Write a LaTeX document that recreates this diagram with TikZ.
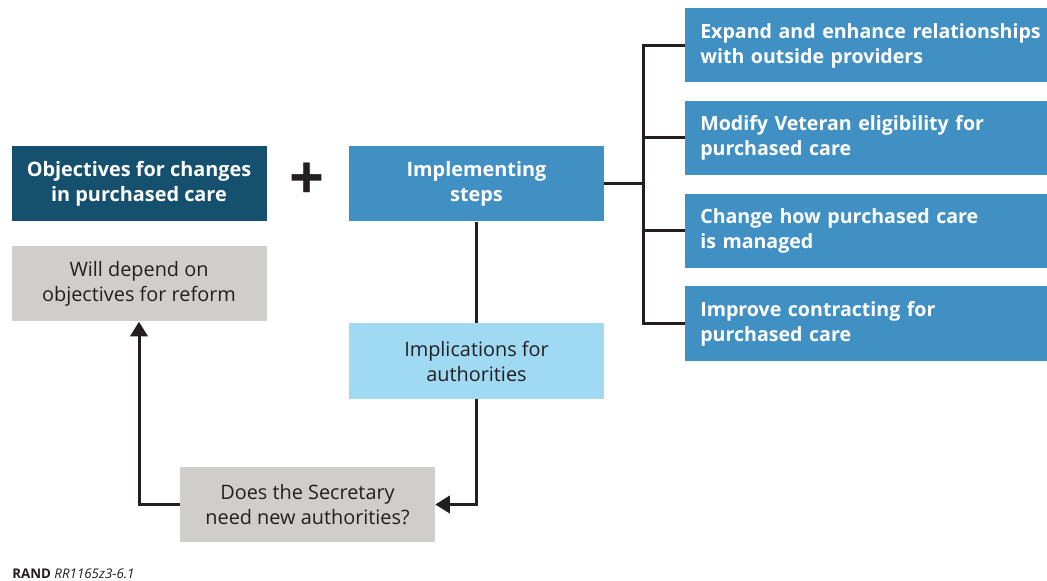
\documentclass[tikz,border=0pt]{standalone}
\usepackage{fontspec}
\setmainfont{Open Sans}
\usetikzlibrary{arrows.meta, positioning}

\definecolor{darkteal}{HTML}{15506F}
\definecolor{midblue}{HTML}{4190C3}
\definecolor{lightblue}{HTML}{A0D9F2}
\definecolor{boxgray}{HTML}{CFCECC}
\definecolor{inkgray}{HTML}{231F20}

\begin{document}
\begin{tikzpicture}[
  x=0.75pt,
  y=-0.75pt,
  box/.style={minimum width=191.25pt, minimum height=56.25pt, inner sep=0pt, align=center, font=\fontsize{14.9}{18.75}\selectfont},
  darkbox/.style={box, fill=darkteal, text=white, font=\fontsize{14.9}{18.75}\selectfont\bfseries},
  bluebox/.style={box, fill=midblue, text=white, font=\fontsize{14.9}{18.75}\selectfont\bfseries},
  palebox/.style={box, fill=lightblue, text=inkgray},
  graybox/.style={box, fill=boxgray, text=inkgray},
  stepbox/.style={fill=midblue, text=white, anchor=west, minimum width=271.5pt, minimum height=55.5pt, inner xsep=11.25pt, inner ysep=0pt, text width=268pt, align=left, font=\fontsize{14.7}{18.75}\selectfont\bfseries},
  wire/.style={draw=inkgray, line width=2.25pt},
  feed/.style={wire, -{Triangle[length=11pt, width=13pt]}}
  ]
    \useasboundingbox (0,0) rectangle (1047,581);

    % left column
    \node[darkbox] (goals) at (139,184) {Objectives for changes\\in purchased care};
    \node[graybox] (depend) at (139,284) {Will depend on\\objectives for reform};

    % plus
    \node[text=inkgray, font=\fontsize{46}{46}\selectfont\bfseries] (plus) at (307,181) {+};

    % middle column
    \node[bluebox] (impl) at (476.5,184) {Implementing\\steps};
    \node[palebox] (implic) at (476.5,361) {Implications for\\authorities};
    \node[graybox] (secr) at (307.5,504.5) {Does the Secretary\\need new authorities?};

    % the four steps
    \node[stepbox] (stepa) at (685,45.5) {Expand and enhance relationships\\with outside providers};
    \node[stepbox] (stepb) at (685,138) {Modify Veteran eligibility for\\purchased care};
    \node[stepbox] (stepc) at (685,231) {Change how purchased care\\is managed};
    \node[stepbox] (stepd) at (685,323.5) {Improve contracting for\\purchased care};

    % bracket
    \coordinate (spine) at (643,184);
    \draw[wire] (impl.east) -- (spine);
    \draw[wire, line cap=rect] (spine |- stepa.west) -- (spine |- stepd.west);
    \draw[wire] (spine |- stepa.west) -- (stepa.west);
    \draw[wire] (spine |- stepb.west) -- (stepb.west);
    \draw[wire] (spine |- stepc.west) -- (stepc.west);
    \draw[wire] (spine |- stepd.west) -- (stepd.west);

    % loop back
    \draw[wire] (impl.south) -- (implic.north);
    \draw[feed] (implic.south) |- (secr.east);
    \draw[feed] (secr.west) -| (depend.south);

    % source line
    \node[anchor=base west, inner sep=0pt, text=inkgray, font=\fontsize{10}{12}\selectfont] (src) at (12,578) {\textbf{RAND} \textit{RR1165z3-6.1}};
\end{tikzpicture}
\end{document}
